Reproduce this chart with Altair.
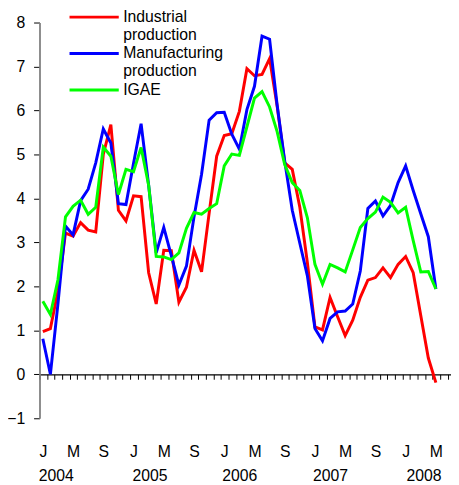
import altair as alt
import pandas as pd

# Monthly index: 0 = Jan 2004 ... 52 = May 2008
series_names = ["Industrial production", "Manufacturing production", "IGAE"]
series_colors = ["#FF0000", "#0000FF", "#00FF00"]

industrial = [0.97, 1.04, 1.9, 3.21, 3.14, 3.45, 3.28, 3.24, 5.0, 5.68,
              3.73, 3.49, 4.06, 4.04, 2.31, 1.60, 2.82, 2.81, 1.64, 1.98,
              2.82, 2.33, 3.66, 4.96, 5.43, 5.47, 5.98, 6.95, 6.79, 6.82,
              7.18, 6.1, 4.81, 4.66, 3.80, 2.54, 1.08, 1.01, 1.75, 1.31,
              0.88, 1.23, 1.75, 2.14, 2.20, 2.42, 2.20, 2.50, 2.68, 2.31,
              1.34, 0.37, -0.19]
manufacturing = [0.81, 0.0, 1.6, 3.37, 3.17, 3.95, 4.21, 4.81, 5.58, 5.26,
                 3.88, 3.86, 4.8, 5.70, 4.3, 2.76, 3.34, 2.7, 2.03, 2.46,
                 3.58, 4.55, 5.78, 5.95, 5.96, 5.46, 5.12, 6.02, 6.55, 7.69,
                 7.62, 6.12, 4.85, 3.73, 2.98, 2.24, 1.04, 0.76, 1.27, 1.42,
                 1.44, 1.60, 2.35, 3.77, 3.94, 3.60, 3.84, 4.36, 4.74, 4.18,
                 3.65, 3.13, 1.94]
igae = [1.66, 1.36, 2.15, 3.58, 3.82, 3.96, 3.64, 3.80, 5.17, 4.96,
        4.09, 4.66, 4.61, 5.16, 4.3, 2.68, 2.67, 2.61, 2.76, 3.32,
        3.68, 3.64, 3.77, 3.88, 4.74, 5.01, 4.98, 5.63, 6.28, 6.43,
        6.08, 5.52, 4.77, 4.36, 4.18, 3.56, 2.50, 2.05, 2.50, 2.42,
        2.33, 2.83, 3.34, 3.54, 3.69, 4.03, 3.91, 3.67, 3.80, 3.04,
        2.33, 2.34, 1.94]

y_ticks = [-1, 0, 1, 2, 3, 4, 5, 6, 7, 8]
month_label_pos = list(range(0, 53, 4))
month_letters = ["J", "M", "S", "J", "M", "S", "J", "M", "S", "J", "M", "S", "J", "M"]
year_label_pos = [1.7, 14.1, 26.0, 38.0, 50.35]
year_labels = ["2004", "2005", "2006", "2007", "2008"]
minor_tick_pos = [k - 0.44 for k in range(0, 55)]

rows = []
for name, vals in zip(series_names, [industrial, manufacturing, igae]):
    for i, v in enumerate(vals):
        rows.append({"month": i, "series": name, "value": v})
df = pd.DataFrame(rows)

FONT = "Liberation Sans"
x_domain = [-0.44, 54.0]
y_domain = [-1, 8]
W, H = 418, 402

label_expr = ""
for p, l in zip(month_label_pos, month_letters):
    label_expr += f"datum.value == {p} ? '{l}' : "
for p, y in zip(year_label_pos, year_labels):
    label_expr += f"datum.value == {p} ? ['', '{y}'] : "
label_expr += "''"

x_scale = alt.Scale(domain=x_domain, nice=False, zero=False)
y_scale = alt.Scale(domain=y_domain, nice=False, zero=False)

lines = alt.Chart(df).mark_line(strokeWidth=3).encode(
    x=alt.X("month:Q", scale=x_scale,
            axis=alt.Axis(orient="bottom", offset=-H / 9, values=minor_tick_pos,
                          labels=False, title=None, grid=False, ticks=True,
                          tickSize=5, tickColor="#000000", tickWidth=1,
                          domainColor="#000000", domainWidth=1.2)),
    y=alt.Y("value:Q", scale=y_scale,
            axis=alt.Axis(orient="left", values=y_ticks, title=None, grid=False,
                          tickSize=6, tickColor="#000000", tickWidth=1,
                          domainColor="#808080", domainWidth=1.8, labelFontSize=16,
                          labelColor="#000000", labelPadding=9, labelFont=FONT)),
    color=alt.Color("series:N",
                    scale=alt.Scale(domain=series_names, range=series_colors),
                    legend=alt.Legend(orient="none", legendX=45, legendY=-16,
                                      direction="vertical", title=None, padding=0,
                                      rowPadding=0, labelFontSize=16, labelFont=FONT,
                                      labelColor="#000000", labelBaseline="middle",
                                      labelOffset=19, labelLimit=300,
                                      symbolType="M-2.778,0L2.778,0",
                                      symbolSize=324, symbolStrokeWidth=3,
                                      labelExpr="datum.label == 'IGAE' ? ['IGAE', ''] : split(datum.label, ' ')")),
)

labels_layer = alt.Chart(df).mark_point(opacity=0).encode(
    x=alt.X("month:Q", scale=x_scale,
            axis=alt.Axis(orient="bottom", values=month_label_pos + year_label_pos,
                          labelExpr=label_expr, title=None, grid=False, ticks=False,
                          tickSize=0, domain=False, labelFontSize=16, labelFont=FONT,
                          labelColor="#000000", labelBaseline="top", labelPadding=26,
                          labelLineHeight=24, labelOverlap=False, labelFlush=False,
                          labelBound=False, labelAlign="center")),
    y=alt.value(0),
)

chart = alt.layer(lines, labels_layer).resolve_axis(x="independent").properties(
    width=W, height=H,
    autosize=alt.AutoSizeParams(type="none"),
    padding={"left": 32, "top": 11, "right": 0, "bottom": 64},
).configure(font=FONT, view=alt.ViewConfig(stroke=None))

chart.save("out.html", embed_options={"renderer": "svg", "actions": False})
